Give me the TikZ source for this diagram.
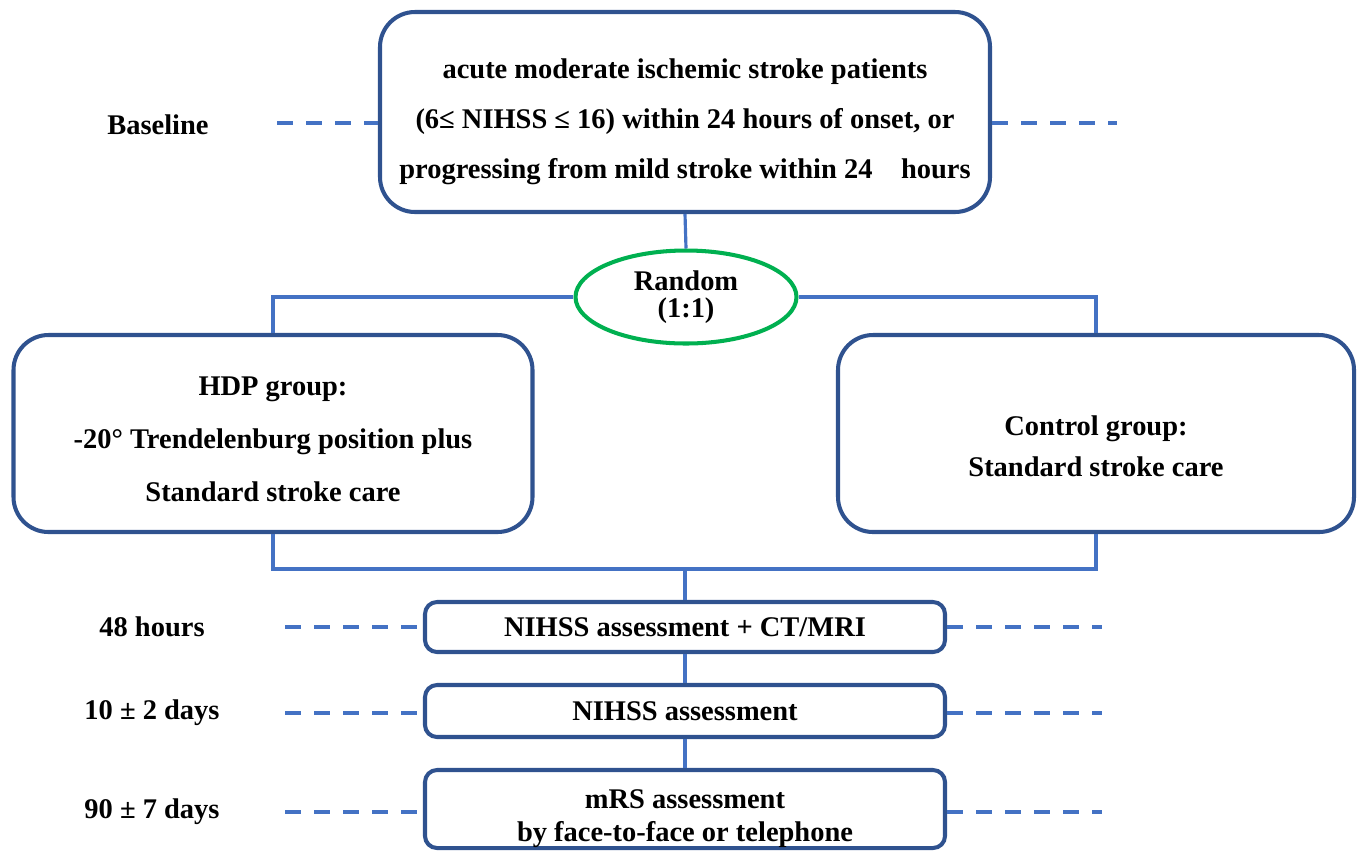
\documentclass[tikz,border=0pt]{standalone}
\usepackage{fontspec}
\setmainfont{Liberation Serif}
\usetikzlibrary{shapes.geometric}
\definecolor{boxblue}{HTML}{2F528F}
\definecolor{lineblue}{HTML}{4472C4}
\definecolor{rndgreen}{HTML}{00B050}
\begin{document}
\begin{tikzpicture}
[font=\fontsize{8.1}{14.2}\selectfont\bfseries, line width=0.85pt,
bigbox/.style={rectangle, draw=boxblue, line width=1.15pt, rounded corners=3.5mm, inner sep=0pt, align=center},
smallbox/.style={rectangle, draw=boxblue, line width=1.15pt, rounded corners=1.2mm, inner sep=0pt, align=center, minimum width=52mm},
rnd/.style={ellipse, draw=rndgreen, line width=1.15pt, inner sep=0pt, minimum width=22.1mm, minimum height=9.3mm, align=center},
link/.style={draw=lineblue, line width=0.9pt},
dashline/.style={draw=lineblue, line width=1.1pt, dash pattern=on 1.6mm off 1.3mm}]

\useasboundingbox (0,0) rectangle (13.6,-8.51);

\node[bigbox, minimum width=61mm, minimum height=20mm] (patients) at (6.85,-1.12)
  {\rule{0pt}{4mm}acute moderate ischemic stroke patients\\(6≤ NIHSS ≤ 16) within 24 hours of onset, or\\progressing from mild stroke within 24\quad hours};
\node[rnd] (random) at (6.86,-2.97) {Random\\[-6.5pt](1:1)};
\node[bigbox, minimum width=51.9mm, minimum height=19.7mm, font=\fontsize{8.1}{15}\selectfont\bfseries] (hdp) at (2.73,-4.335)
  {\rule{0pt}{3mm}HDP group:\\-20° Trendelenburg position plus\\Standard stroke care};
\node[bigbox, minimum width=51.6mm, minimum height=19.7mm, font=\fontsize{8.1}{11.7}\selectfont\bfseries] (control) at (10.96,-4.335)
  {\rule{0pt}{4.6mm}Control group:\\Standard stroke care};

\node[smallbox, minimum height=5mm] (nihss48) at (6.85,-6.27) {NIHSS assessment + CT/MRI};
\node[smallbox, minimum height=5.2mm] (nihss10) at (6.85,-7.11) {NIHSS assessment};
\node[smallbox, minimum height=7.8mm, font=\fontsize{8.1}{9.6}\selectfont\bfseries] (mrs90) at (6.85,-8.09)
  {\rule{0pt}{3.8mm}mRS assessment\\by face-to-face or telephone};

\node (baseline) at (1.58,-1.25) {Baseline};
\node (h48) at (1.52,-6.27) {48 hours};
\node (d10) at (1.52,-7.13) {10 ± 2 days};
\node (d90) at (1.52,-8.12) {90 ± 7 days};

\draw[link] (patients.south) -- (random.north);
\draw[link] (random.west) -| (hdp.north);
\draw[link] (random.east) -| (control.north);
\coordinate (merge) at (6.85,-5.69);
\draw[link] (hdp.south) |- (merge) -| (control.south);
\draw[link] (merge) -- (nihss48.north);
\draw[link] (nihss48.south) -- (nihss10.north);
\draw[link] (nihss10.south) -- (mrs90.north);

\coordinate (bl) at (2.77,-1.23);
\coordinate (br) at (11.17,-1.23);
\draw[dashline] (bl) -- (bl -| patients.west);
\draw[dashline] (bl -| patients.east) -- (br);
\foreach \tnode/\y in {nihss48/-6.27, nihss10/-7.13, mrs90/-8.12} {
  \coordinate (l-\tnode) at (2.85,\y);
  \coordinate (r-\tnode) at (11.02,\y);
  \draw[dashline] (l-\tnode) -- (l-\tnode -| \tnode.west);
  \draw[dashline] (r-\tnode -| \tnode.east) -- (r-\tnode);
}
\end{tikzpicture}
\end{document}
